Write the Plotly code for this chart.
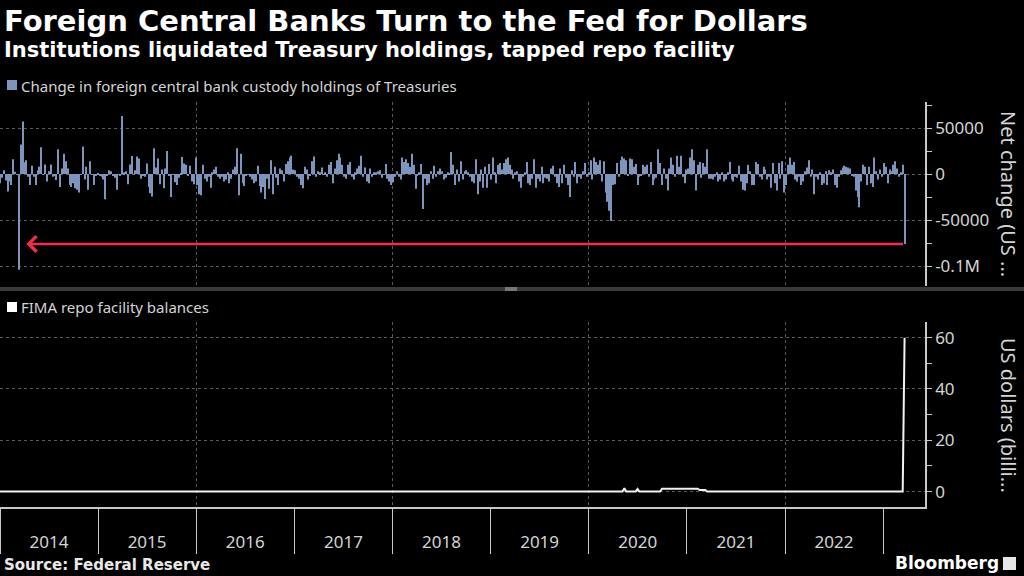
import pandas as pd
import plotly.graph_objects as go

# ─────────────────────────────────────────
# DATA: weekly change in foreign central bank custody holdings (USD mn)
# ─────────────────────────────────────────
chg_2014 = [-10000, -4000, 4000, -7000, -19000, -8000, -12000, 16000, 2500, -1000,
            -104000, 32000, 57000, 12700, 15000, -3000, -12000, 9000, -3000, -12000,
            4000, 8000, 29000, -1000, 10500, -8000, 3000, 10500, -3000, -2000,
            -6500, 27000, -14000, 6000, 22000, 14000, 6000, -12000, -14000, -10000,
            -15500, -17000, -20000, -1000, 30000, -6000, 8000, -17000, 14000, -1000,
            -12000, -2000, 1000]
chg_2015 = [-2000, -3000, -6000, -27500, -2000, 4000, 3000, -2000, -4000, -17000,
            -1000, -2000, 63000, 2000, 3000, -11000, 10500, 19500, -1000, 4000,
            19000, 17000, -5000, -2000, -3000, 11500, -14000, -21000, -24500, 28000,
            7000, 17000, -11000, 5000, -15500, 6000, 25000, -2000, -25000, -1000,
            -9000, -12000, -4000, 1000, 18500, 11500, 10000, -2000, 9000, -8000,
            -11000, 18000]
chg_2016 = [-12000, -22000, -23000, 10000, -5000, -8000, -3000, -15000, 2000, 5000,
            8000, -3000, -5000, -3000, -8000, -6000, 2000, -10000, -5000, 5000,
            8000, 28000, -23000, 22000, -10000, -13000, -2000, -1000, -3000, -6000,
            -10000, -8000, 9000, -13000, -20000, -14000, -27000, -5000, -16000, 15000,
            -22000, 8000, -4000, -12000, 6000, 4000, -8000, 11000, 14000, 18000,
            20000, 5000]
chg_2017 = [4000, -3000, -5000, -12000, -15500, 8000, 5000, -6000, -2000, 14000,
            19000, -3000, 3000, 2000, 7000, -1000, 2000, -3000, 10000, 13000,
            -10000, 6000, 15000, 22000, 18000, 10000, -3000, -5000, 10000, 13000,
            -3000, -6000, 2000, 6000, 9000, 20000, -3000, 7000, -8000, -10000,
            6000, -3000, 2000, 2000, 3000, 4000, -4000, -1000, 11000, -5000,
            -8000, -12000]
chg_2018 = [-9000, -3000, 3000, -3000, -6000, 18000, 13000, 16000, 12000, 8000,
            22000, 10000, -16000, -2000, 2000, 11000, -38000, -5000, -12000, -10000,
            3000, -5000, 9000, -3000, 3000, 6000, 3000, -6000, -4000, 2000,
            1000, 24000, 10000, -12000, 5000, -8000, 14000, -6000, 3000, 4000,
            2000, -3000, -8000, -10000, 16000, -22000, -8000, 5000, -15000, 8000,
            -15000, 11000]
chg_2019 = [-6000, 18000, 2000, -10000, 10000, 12000, 5000, 12000, 16000, 18000,
            10000, 5000, -5000, 2000, 3000, -8000, -15000, -3000, 2000, 13000,
            -10000, -12000, -5000, 16000, -15000, -5000, -8000, 8000, -10000, -4000,
            -5000, -8000, 6000, 9000, -3000, -10000, -14000, 6000, -10000, 10000,
            -4000, -12000, -25000, 4000, -3000, 13000, -10000, -3000, -5000, 3000,
            12000, -3000]
chg_2020 = [2000, 15000, -6000, 18000, 13000, 10000, 15000, -8000, 14000, -20000,
            -30000, -40000, -51000, -12000, -11000, 12000, -3000, 15000, 19000, 17000,
            15000, -2000, 17000, 16000, 8000, 11000, -12000, -3000, -2000, 10000,
            8000, 10000, -3000, 13000, -12000, -6000, -4000, 27000, 12000, -12000,
            6000, -5000, -18000, 6000, 18000, 10000, -3000, 20000, 8000, 20000,
            -3000, -10000, 5000]
chg_2021 = [6000, 18000, 27000, 15000, -18000, 10000, 13000, -4000, 12000, 8000,
            27000, -5000, -5000, -6000, -3000, 2000, -8000, -6000, 2000, -8000,
            -6000, 2000, 13000, -6000, -8000, -3000, -4000, 9000, -8000, -17000,
            -18000, -10000, 10000, 3000, -12000, -12000, 13000, 11000, -3000, -6000,
            8000, 5000, -6000, -3000, -15000, 12000, -10000, -18000, 12000, -5000,
            14000, -20000]
chg_2022 = [-12000, 10000, 18000, 10000, 13000, -6000, -8000, -3000, -12000, -8000,
            3000, 7000, 15000, -3000, 5000, -22000, -3000, -6000, 2000, -12000,
            -10000, 3000, -12000, 4000, 2000, 5000, -12000, -15000, -3000, 4000,
            7000, 9000, 8000, 7000, 6000, -2000, -3000, -18000, -25000, -36000,
            -8000, 10000, 8000, -12000, 8000, -10000, -14000, 18000, 3000, -6000,
            5000, -3000]
chg_2023 = [12000, 8000, -10000, 5000, 3000, 10000, 14000, 6000, -3000, 2000,
            10000, -76000]

# FIMA repo facility balances (USD bn)
fima_dates = ["2014-01-01", "2020-05-06", "2020-05-13", "2020-05-20", "2020-06-24",
              "2020-07-01", "2020-07-08", "2020-09-23", "2020-09-30", "2021-02-10",
              "2021-02-17", "2021-03-10", "2021-03-17", "2023-03-15", "2023-03-22"]
fima_values = [0, 0, 1.3, 0, 0, 1.0, 0, 0, 1.1, 1.1, 0.6, 0.6, 0, 0, 60]

net_tickvals = [-100000, -50000, 0, 50000]
net_ticktext = ["-0.1M", "-50000", "0", "50000"]
fima_tickvals = [0, 20, 40, 60]

# ─────────────────────────────────────────
# STYLE
# ─────────────────────────────────────────
W, H = 1024, 576
R_MARGIN = 99
BAR_COLOR = "#7d94bd"
GRID = "#5a5a5a"
AXIS = "#c8c8c8"
TEXT = "#d4d4d4"
FONT = "Noto Sans"
BOLD = "DejaVu Sans"
X_RANGE = ["2014-01-01", "2023-06-06"]


def px(x):
    """pixel column -> paper x (paper spans the plot width only)"""
    return x / (W - R_MARGIN)


def py(y):
    """pixel row -> paper y"""
    return 1 - y / H


def build_figure():
    changes = (chg_2014 + chg_2015 + chg_2016 + chg_2017 + chg_2018 +
               chg_2019 + chg_2020 + chg_2021 + chg_2022 + chg_2023)
    weeks = pd.date_range("2014-01-01", periods=len(changes), freq="7D")
    s = pd.Series(changes, index=weeks)

    fig = go.Figure()

    fig.add_trace(go.Bar(
        x=s.index, y=s.values, marker=dict(color=BAR_COLOR, line=dict(width=0)),
        xaxis="x", yaxis="y", showlegend=False, hoverinfo="skip",
    ))
    fig.add_trace(go.Scatter(
        x=pd.to_datetime(fima_dates), y=fima_values, mode="lines",
        line=dict(color="#f2f2f2", width=2), xaxis="x2", yaxis="y2",
        showlegend=False, hoverinfo="skip",
    ))
    # invisible trace so the labelled overlay axis gets drawn
    fig.add_trace(go.Scatter(x=pd.to_datetime(fima_dates[:1]), y=fima_values[:1],
                             mode="markers", marker=dict(opacity=0),
                             xaxis="x3", yaxis="y2", showlegend=False,
                             hoverinfo="skip"))

    top_dom = [py(286), py(102)]
    bot_dom = [py(507), py(322)]

    fig.update_layout(
        width=W, height=H,
        paper_bgcolor="black", plot_bgcolor="black",
        margin=dict(l=0, r=R_MARGIN, t=0, b=0),
        bargap=0.45,
        font=dict(family=FONT, color=TEXT, size=16),
        xaxis=dict(domain=[0, 1], anchor="y", type="date", range=X_RANGE,
                   dtick="M24", tick0="2014-01-01", showgrid=True, gridcolor=GRID,
                   griddash="dot", gridwidth=1, showticklabels=False, ticks="",
                   showline=False, zeroline=False),
        yaxis=dict(domain=top_dom, anchor="x", side="right",
                   range=[-121700, 78300], tickmode="array",
                   tickvals=net_tickvals, ticktext=net_ticktext,
                   showgrid=True, gridcolor=GRID, griddash="dot", zeroline=False,
                   showline=True, linecolor=AXIS, linewidth=1.5,
                   ticks="outside", ticklen=5, tickcolor=AXIS,
                   tickfont=dict(size=17, color=TEXT),
                   minor=dict(tickmode="linear", tick0=0, dtick=25000,
                              ticks="outside", ticklen=5, tickcolor=AXIS,
                              showgrid=False)),
        xaxis2=dict(domain=[0, 1], anchor="y2", type="date", range=X_RANGE,
                    dtick="M24", tick0="2014-01-01", showgrid=True, gridcolor=GRID,
                    griddash="dot", showticklabels=False, ticks="",
                    showline=False, zeroline=False),
        xaxis3=dict(overlaying="x2", anchor="y2", side="bottom", type="date",
                    range=X_RANGE, dtick="M12", tick0="2014-01-01",
                    tickformat="%Y", ticklabelmode="period",
                    showgrid=False, showline=True, linecolor=AXIS, linewidth=1.5,
                    ticks="outside", ticklen=45, tickcolor=AXIS,
                    ticklabelstandoff=-26,
                    tickfont=dict(size=17, color=TEXT)),
        yaxis2=dict(domain=bot_dom, anchor="x2", side="right",
                    range=[-6, 66.1], tickmode="array", tickvals=fima_tickvals,
                    showgrid=True, gridcolor=GRID, griddash="dot", zeroline=False,
                    showline=True, linecolor=AXIS, linewidth=1.5,
                    ticks="outside", ticklen=5, tickcolor=AXIS,
                    tickfont=dict(size=17, color=TEXT),
                    minor=dict(tickmode="linear", tick0=0, dtick=10,
                               ticks="outside", ticklen=5, tickcolor=AXIS,
                               showgrid=False)),
    )

    # red arrow from the latest drop back to the 2014 low
    low_date = s.idxmin() + pd.Timedelta(weeks=4)
    fig.add_annotation(
        x=low_date, y=s.iloc[-1], ax=s.index[-1], ay=s.iloc[-1],
        xref="x", yref="y", axref="x", ayref="y", text="",
        showarrow=True, arrowhead=4, arrowsize=1.2, arrowwidth=2.5,
        arrowcolor="#f0304a",
    )

    # texts
    def note(text, x, y, size, color=TEXT, bold=False, family=FONT):
        fig.add_annotation(
            text=f"<b>{text}</b>" if bold else text, x=px(x), y=py(y),
            xref="paper", yref="paper", showarrow=False, xanchor="left",
            yanchor="middle", font=dict(size=size, color=color, family=family))

    note("Foreign Central Banks Turn to the Fed for Dollars", 2, 21, 29,
         color="white", bold=True, family=BOLD)
    note("Institutions liquidated Treasury holdings, tapped repo facility", 2, 50, 21,
         color="white", bold=True, family=BOLD)
    note("Change in foreign central bank custody holdings of Treasuries", 19, 86, 15)
    note("FIMA repo facility balances", 19, 307, 15)
    note("Source: Federal Reserve", 2, 565, 15, color="#e8e8e8", bold=True,
         family=BOLD)
    note("Bloomberg", 893, 563, 17, color="white", bold=True, family=BOLD)

    for label, yc in [("Net change (US ...", 194), ("US dollars (billi...", 415)]:
        fig.add_annotation(text=label, x=px(1009), y=py(yc), xref="paper",
                           yref="paper", showarrow=False, textangle=90,
                           xanchor="center", yanchor="middle",
                           font=dict(size=20, color=TEXT, family=FONT))

    # legend swatches
    for color, y0 in [(BAR_COLOR, 80), ("white", 302)]:
        fig.add_shape(type="rect", xref="paper", yref="paper", x0=px(7), x1=px(17),
                      y0=py(y0 + 10), y1=py(y0), fillcolor=color, line_width=0)

    # panel separator with grab handle, logo mark
    fig.add_shape(type="rect", xref="paper", yref="paper", x0=0, x1=px(W),
                  y0=py(291), y1=py(287), fillcolor="#3a3a3a", line_width=0)
    fig.add_shape(type="rect", xref="paper", yref="paper", x0=px(505), x1=px(517),
                  y0=py(291), y1=py(287), fillcolor="#777777", line_width=0)
    fig.add_shape(type="rect", xref="paper", yref="paper", x0=px(1003), x1=px(1016),
                  y0=py(570), y1=py(557), fillcolor="#e6e6e6", line_width=0)
    return fig


if __name__ == "__main__":
    fig = build_figure()
    fig.write_html("out.html", config={"displayModeBar": False},
                   post_script="document.body.style.margin='0px';")
